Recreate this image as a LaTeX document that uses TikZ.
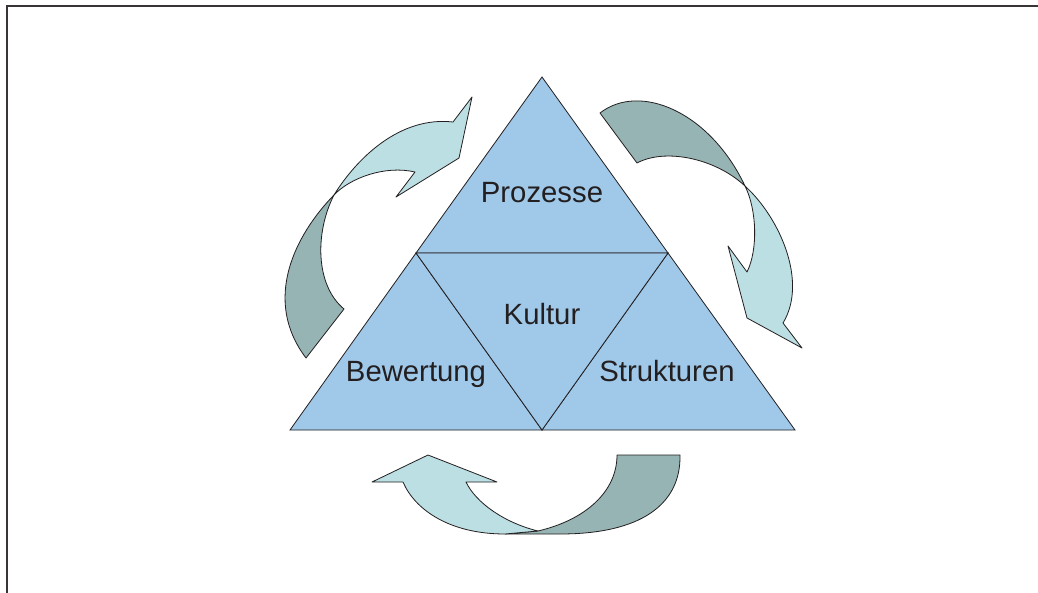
\documentclass[tikz,border=0pt]{standalone}
\usepackage{fontspec}
\setmainfont{Liberation Sans}
\definecolor{triblue}{RGB}{159,200,233}
\definecolor{arrowlight}{RGB}{188,223,227}
\definecolor{arrowdark}{RGB}{151,180,181}
\definecolor{ink}{RGB}{35,31,32}
\begin{document}
\begin{tikzpicture}[x=1pt,y=-1pt,
  frame/.style={draw=ink!90,line width=2pt},
  tri/.style={fill=triblue,draw=ink,line width=0.8pt,line join=miter},
  lightband/.style={fill=arrowlight,draw=ink,line width=0.8pt,line join=round},
  darkband/.style={fill=arrowdark,draw=ink,line width=0.8pt,line join=round},
  lbl/.style={anchor=base,text=ink,font=\fontsize{29.3}{35}\selectfont,inner sep=0pt}]
\useasboundingbox (0,0) rectangle (1038,593);
\fill[white] (0,0) rectangle (1038,593);
% frame: top and left rules
\draw[frame] (7,593) -- (7,6) -- (1038,6);

% triangle vertices and edge midpoints
\coordinate (top) at (542,77);
\coordinate (bl) at (290,430);
\coordinate (br) at (795,430);
\coordinate (ml) at (416,253);
\coordinate (mr) at (668,253);
\coordinate (mb) at (542,430);

\draw[tri] (top) -- (mr) -- (ml) -- cycle;
\draw[tri] (ml) -- (mb) -- (bl) -- cycle;
\draw[tri] (mr) -- (br) -- (mb) -- cycle;
\draw[tri] (ml) -- (mr) -- (mb) -- cycle;

\node[lbl] (prozesse) at (542,203) {Prozesse};
\node[lbl] (kultur) at (542,325) {Kultur};
\node[lbl] (bewertung) at (416,381) {Bewertung};
\node[lbl] (strukturen) at (667,381) {Strukturen};

% left circular arrow
\draw[darkband] (334,195) .. controls (295,235) and (262,300) .. (306,358)
  -- (344,309) .. controls (315,285) and (315,232) .. (334,195) -- cycle;
\draw[lightband] (334,195) .. controls (357,158) and (400,116) .. (453,122)
  -- (472,97) -- (459,158) -- (396,197) -- (415,172)
  .. controls (385,165) and (350,178) .. (334,195) -- cycle;

% right circular arrow
\draw[darkband] (600,113) -- (637,163) .. controls (665,148) and (715,158) .. (745,186)
  .. controls (710,112) and (640,82) .. (600,113) -- cycle;
\draw[lightband] (745,186) .. controls (780,218) and (808,282) .. (783,323)
  -- (802,348) -- (747,318) -- (728,246) -- (747,272)
  .. controls (758,250) and (757,210) .. (745,186) -- cycle;

% bottom circular arrow
\draw[darkband] (617,455) -- (680,455) .. controls (681,505) and (640,534) .. (560,534)
  -- (505,534) -- (538,531) .. controls (585,520) and (617,492) .. (617,455) -- cycle;
\draw[lightband] (403,482) -- (372,482) -- (428,455) -- (497,482) -- (466,482)
  .. controls (476,503) and (505,523) .. (538,531) -- (505,534)
  .. controls (450,534) and (415,510) .. (403,482) -- cycle;
\end{tikzpicture}
\end{document}
